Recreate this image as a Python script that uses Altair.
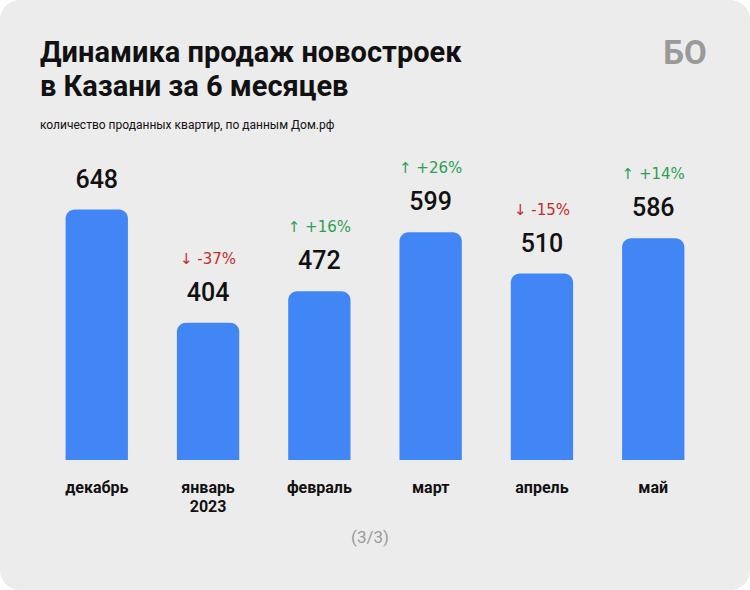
import altair as alt
import pandas as pd

months = ["декабрь", "январь|2023", "февраль", "март", "апрель", "май"]
values = [648, 404, 472, 599, 510, 586]
changes = ["", "↓ -37%", "↑ +16%", "↑ +26%", "↓ -15%", "↑ +14%"]
directions = ["", "down", "up", "up", "down", "up"]

title_text = "Динамика продаж новостроек\nв Казани за 6 месяцев"
subtitle_text = "количество проданных квартир, по данным Дом.рф"
logo_text = "БО"
page_text = "(3/3)"

BAR = "#4286f5"
RED = "#c62b2b"
GREEN = "#2e9e55"
BG = "#ececec"
FONT = "Roboto"

df = pd.DataFrame({"month": months, "value": values, "change": changes, "dir": directions})

W, H = 670, 320

x_enc = alt.X(
    "month:N", sort=months,
    scale=alt.Scale(paddingInner=0.44, paddingOuter=0.23),
    axis=alt.Axis(title=None, domain=False, ticks=False, labelAngle=0, zindex=2,
                  labelFontSize=16, labelFontWeight="bold", labelColor="#111111",
                  labelFont=FONT, labelPadding=19, labelLineHeight=19,
                  labelExpr="split(datum.label, '|')"),
)
y_scale = alt.Scale(domain=[108, 798], nice=False, zero=False)

card = alt.Chart(pd.DataFrame({"k": [0]})).mark_rect(
    fill=BG, cornerRadius=20
).encode(x=alt.value(-40), x2=alt.value(710), y=alt.value(-140), y2=alt.value(450))

bars = alt.Chart(df).mark_bar(
    color=BAR, cornerRadiusTopLeft=9, cornerRadiusTopRight=9
).encode(
    x=x_enc,
    y=alt.Y("value:Q", scale=y_scale, axis=None),
    y2=alt.datum(108),
)

vals = alt.Chart(df).mark_text(
    dy=-30, baseline="middle", fontSize=25, fontWeight=500, font=FONT, color="#111111"
).encode(x=alt.X("month:N", sort=months), y=alt.Y("value:Q", scale=y_scale), text="value:Q")

pcts = alt.Chart(df).mark_text(
    dy=-64, baseline="middle", fontSize=15, font="DejaVu Sans"
).encode(
    x=alt.X("month:N", sort=months), y=alt.Y("value:Q", scale=y_scale), text="change:N",
    color=alt.Color("dir:N", scale=alt.Scale(domain=["up", "down", ""], range=[GREEN, RED, GREEN]), legend=None),
)

title = alt.Chart(pd.DataFrame({"t": [title_text]})).mark_text(
    align="left", baseline="alphabetic", fontSize=29, fontWeight="bold", font=FONT,
    color="#111111", lineBreak="\n", lineHeight=34
).encode(x=alt.value(0), y=alt.value(-78), text="t:N")

subtitle = alt.Chart(pd.DataFrame({"t": [subtitle_text]})).mark_text(
    align="left", baseline="middle", fontSize=12, font=FONT, color="#111111"
).encode(x=alt.value(0), y=alt.value(-15), text="t:N")

logo = alt.Chart(pd.DataFrame({"t": [logo_text]})).mark_text(
    align="center", baseline="middle", fontSize=33, fontWeight="bold", font=FONT, color="#9a9a9a"
).encode(x=alt.value(645), y=alt.value(-86), text="t:N")

page = alt.Chart(pd.DataFrame({"t": [page_text]})).mark_text(
    align="center", baseline="middle", fontSize=17, font=FONT, color="#9a9a9a"
).encode(x=alt.value(330), y=alt.value(398), text="t:N")

chart = alt.layer(card, bars, vals, pcts, title, subtitle, logo, page).properties(
    width=W, height=H,
    autosize=alt.AutoSizeParams(type="none"),
    padding={"left": 40, "top": 140, "right": 40, "bottom": 130},
    background="white",
).configure_view(stroke=None)

chart.save("out.html", embed_options={"renderer": "svg", "actions": False})
